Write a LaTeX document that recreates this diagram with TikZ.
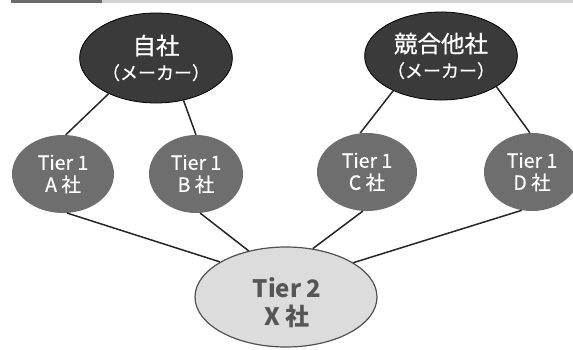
\documentclass[tikz,border=0pt]{standalone}
\usepackage{fontspec}
\newfontfamily\cjk{Noto Sans CJK JP}
\newfontfamily\cjkm{Noto Sans CJK JP}[FakeBold=0.6]
\usetikzlibrary{shapes.geometric}
\definecolor{topgray}{HTML}{3A3A3A}
\definecolor{midgray}{HTML}{6E6E6E}
\definecolor{lightfill}{HTML}{DCDCDC}
\definecolor{bordgray}{HTML}{505050}
\definecolor{txtgray}{HTML}{555555}
\definecolor{bardark}{HTML}{6A6A6A}
\definecolor{barlight}{HTML}{D2D2D2}
\begin{document}
\begin{tikzpicture}[x=1pt,y=-1pt,
  lnk/.style={draw=black!85, line width=1.5pt},
  maker/.style={ellipse, draw=black, line width=0.8pt, fill=topgray, text=white,
    inner sep=0pt, align=center, font=\cjkm\fontsize{18}{25}\selectfont},
  tierone/.style={ellipse, fill=midgray, text=white, inner sep=0pt, align=center,
    minimum height=78pt, font=\cjkm\fontsize{19.5}{22}\selectfont},
  tiertwo/.style={ellipse, draw=bordgray, line width=1.2pt, fill=lightfill,
    inner sep=0pt},
  tiertwotext/.style={text=txtgray, inner sep=0pt, align=center,
    font=\cjk\bfseries\fontsize{24}{28}\selectfont}]
\path[use as bounding box, clip] (0,0) rectangle (573,349);
\fill[white] (0,0) rectangle (573,349);
% top bar
\fill[bardark] (11,0) rectangle (102,3);
\fill[barlight] (102,0) rectangle (573,3);
% nodes
\node[maker, minimum width=142pt, minimum height=90pt] (jisha) at (156,58)
  {{\fontsize{23.5}{25}\selectfont 自社}\\（メーカー）};
\node[maker, minimum width=136pt, minimum height=88pt] (kyougo) at (441,56)
  {{\fontsize{23.5}{25}\selectfont 競合他社}\\（メーカー）};
\node[tierone, minimum width=102pt] (ta) at (63,174) {Tier 1\\A 社};
\node[tierone, minimum width=94pt] (tb) at (196,174) {Tier 1\\B 社};
\node[tierone, minimum width=100pt] (tc) at (367,172) {Tier 1\\C 社};
\node[tierone, minimum width=96pt] (td) at (532,172) {Tier 1\\D 社};
\node[tiertwo, minimum width=182pt, minimum height=100pt] (tx) at (286,297) {};
\node[tiertwotext] (txlabel) at (287,303) {Tier 2\\X 社};
% connectors
\draw[lnk] (jisha.217) -- (ta.86);
\draw[lnk] (jisha.303) -- (tb.90);
\draw[lnk] (kyougo.216) -- (tc.100);
\draw[lnk] (kyougo.331) -- (td.93);
\draw[lnk] (ta.276) -- (tx.152);
\draw[lnk] (tb.276) -- (tx.129);
\draw[lnk] (tc.264) -- (tx.61);
\draw[lnk] (td.255) -- (tx.27.6);
\end{tikzpicture}
\end{document}
